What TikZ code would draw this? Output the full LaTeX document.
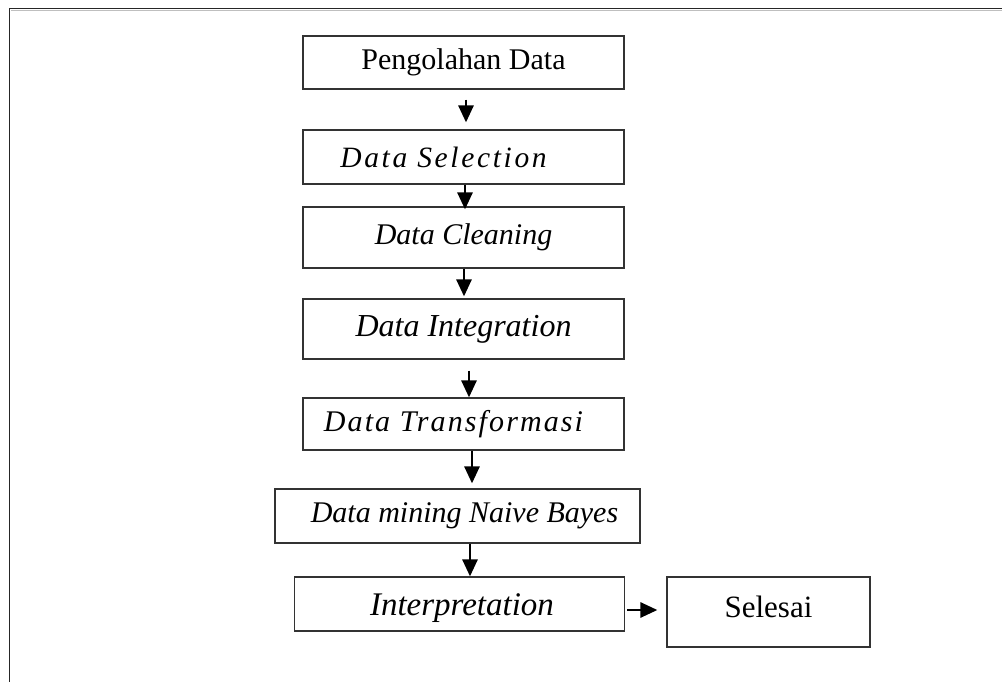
\documentclass[tikz,border=0pt]{standalone}
\usepackage{fontspec}
\setmainfont{Liberation Serif}
\newfontfamily\lebar[LetterSpace=9]{Liberation Serif}
\newfontfamily\agaklebar[LetterSpace=7]{Liberation Serif}
\usetikzlibrary{arrows.meta}
\begin{document}
\begin{tikzpicture}[x=1pt,y=-1pt,
  kotak/.style={draw=black!80, line width=1.2pt, inner sep=0pt, minimum width=321pt,
    font=\fontsize{30}{36}\selectfont\itshape},
  panah/.style={-{Triangle[length=17pt,width=15pt]}, line width=2.8pt}]
\useasboundingbox (0,0) rectangle (1002,682);
\draw[line width=1.6pt, black!85] (9.5,682) -- (9.5,8.5) -- (1002,8.5);
\draw[line width=0.8pt, black!25] (11,10.5) -- (1002,10.5);

\node[kotak, minimum height=53pt, font=\fontsize{30}{36}\selectfont\upshape] (b1) at (463.5,62.5) {Pengolahan Data};
\node[kotak, minimum height=54pt, font=\lebar\fontsize{29.5}{36}\selectfont\itshape] (b2) at (463.5,157) {Data Selection\hspace*{40pt}};
\node[kotak, minimum height=61pt] (b3) at (463.5,237.5) {Data Cleaning};
\node[kotak, minimum height=60pt, font=\fontsize{32}{38}\selectfont\itshape] (b4) at (463.5,329) {Data Integration};
\node[kotak, minimum height=52pt, font=\agaklebar\fontsize{30}{36}\selectfont\itshape] (b5) at (463.5,424) {Data Transformasi\hspace*{20pt}};
\node[kotak, minimum height=54pt, minimum width=365pt] (b6) at (457.5,516) {\hspace*{14pt}Data mining Naive Bayes};
\node[kotak, minimum height=54pt, minimum width=330pt, text height=22pt, text depth=0pt,
  font=\fontsize{33}{38}\selectfont\itshape] (b7) at (459.5,604) {\hspace*{5pt}Interpretation};
\node[kotak, minimum height=70pt, minimum width=203pt, text height=21pt, text depth=11pt,
  font=\fontsize{31}{36}\selectfont\upshape] (b8) at (768.5,612) {Selesai};

\draw[panah, shorten <=10pt, shorten >=7pt] ([xshift=2.5pt]b1.south) -- ([xshift=2.5pt]b2.north);
\draw[panah, shorten >=-3pt] ([xshift=1.5pt]b2.south) -- ([xshift=1.5pt]b3.north);
\draw[panah, shorten >=2pt] ([xshift=0.5pt]b3.south) -- ([xshift=0.5pt]b4.north);
\draw[panah, shorten <=11pt] ([xshift=5.5pt]b4.south) -- ([xshift=5.5pt]b5.north);
\draw[panah, shorten >=5pt] ([xshift=8.5pt]b5.south) -- ([xshift=8.5pt]b5.south |- b6.north);
\draw[panah] ([xshift=12.5pt]b6.south) -- ([xshift=12.5pt]b6.south |- b7.north);
\draw[panah, shorten <=2pt, shorten >=9pt] ([yshift=-6pt]b7.east) -- ([yshift=-6pt]b7.east -| b8.west);
\end{tikzpicture}
\end{document}
